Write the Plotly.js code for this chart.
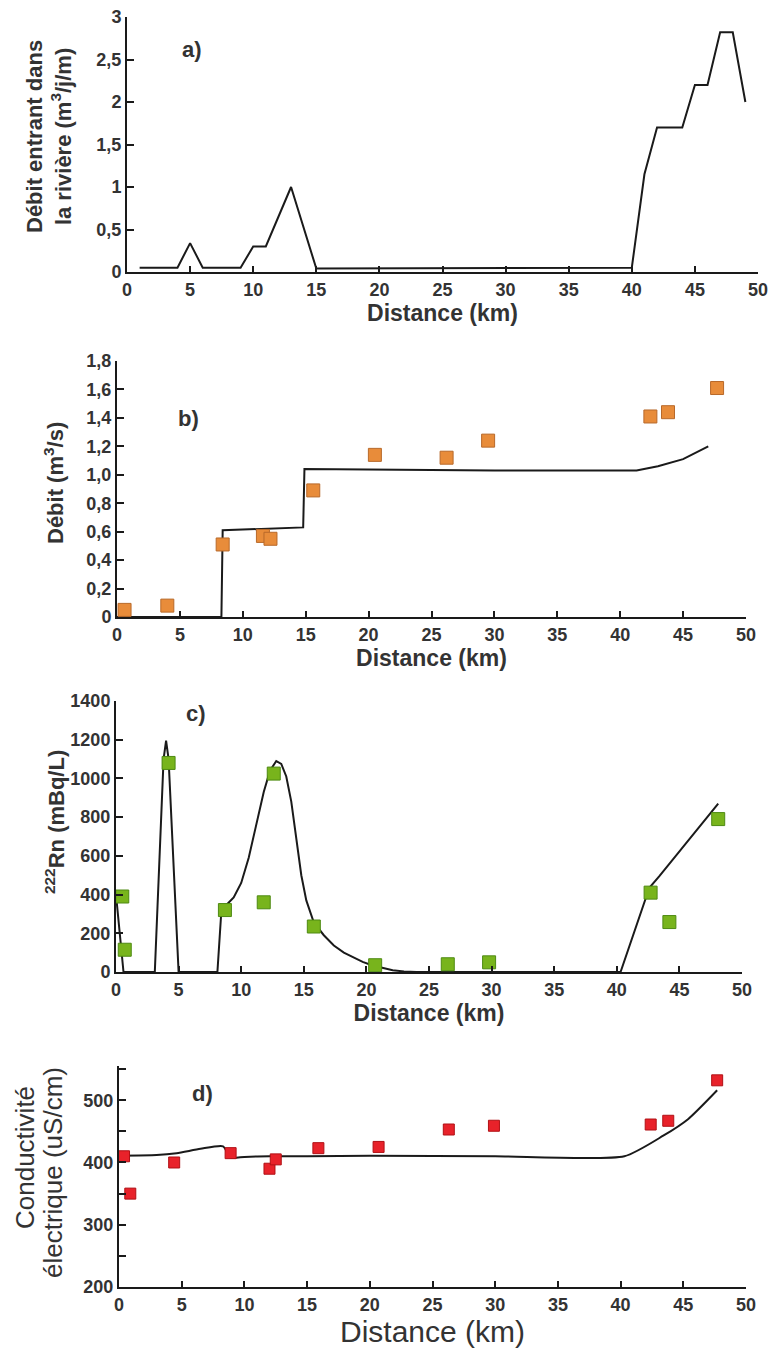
<!DOCTYPE html>
<html>
<head>
<meta charset="utf-8">
<script src="https://cdn.plot.ly/plotly-3.0.1.min.js"></script>
<style>html,body{margin:0;padding:0;background:#fff;}#chart{width:770px;height:1351px;}</style>
</head>
<body>
<div id="chart"></div>
<script>
// ---- Panel a: inflow to the river ----
var aX = [1, 4, 5, 6, 9, 10, 11, 13, 15, 40, 41, 42, 44, 45, 46, 47, 48, 49];
var aY = [0.05, 0.05, 0.34, 0.05, 0.05, 0.3, 0.3, 1.0, 0.04, 0.05, 1.15, 1.7, 1.7, 2.2, 2.2, 2.82, 2.82, 2.0];
var aTickVals = [0, 0.5, 1, 1.5, 2, 2.5, 3];
var aTickText = ['0', '0,5', '1', '1,5', '2', '2,5', '3'];

// ---- Panel b: discharge ----
var bObsX = [0.6, 4.0, 8.4, 11.6, 12.2, 15.6, 20.5, 26.2, 29.5, 42.4, 43.8, 47.7];
var bObsY = [0.05, 0.08, 0.51, 0.57, 0.55, 0.89, 1.14, 1.12, 1.24, 1.41, 1.44, 1.61];
var bModX = [0, 8.3, 8.4, 14.8, 14.9, 20, 30, 41.3, 43, 45, 47];
var bModY = [0, 0, 0.61, 0.63, 1.04, 1.035, 1.03, 1.03, 1.06, 1.11, 1.2];
var bTickVals = [0, 0.2, 0.4, 0.6, 0.8, 1.0, 1.2, 1.4, 1.6, 1.8];
var bTickText = ['0', '0,2', '0,4', '0,6', '0,8', '1,0', '1,2', '1,4', '1,6', '1,8'];

// ---- Panel c: 222Rn ----
var cObsX = [0.5, 0.7, 4.2, 8.7, 11.8, 12.6, 15.8, 20.7, 26.5, 29.8, 42.7, 44.2, 48.1];
var cObsY = [390, 115, 1080, 320, 360, 1025, 235, 35, 40, 50, 410, 258, 790];
var cModX = [0, 0.3, 0.6, 3.1, 3.8, 4.0, 4.2, 5.0, 8.1, 8.4, 8.8, 9.4, 10.0, 10.6, 11.2, 11.8, 12.3, 12.8, 13.2, 13.6, 14.0, 14.4, 14.8, 15.2, 15.8, 16.6, 17.4, 18.2, 18.9, 19.7, 20.5, 21.3, 22.1, 23.0, 24.0, 40.3, 42.6, 43.4, 48.1];
var cModY = [400, 180, 0, 0, 1100, 1195, 1100, 0, 0, 300, 345, 385, 460, 590, 760, 930, 1040, 1090, 1075, 1010, 880, 700, 500, 370, 256, 190, 137, 100, 77, 52, 34, 20, 9, 3, 0, 0, 435, 495, 870];
var cTickVals = [0, 200, 400, 600, 800, 1000, 1200, 1400];
var cTickText = ['0', '200', '400', '600', '800', '1000', '1200', '1400'];

// ---- Panel d: electrical conductivity ----
var dObsX = [0.4, 0.9, 4.4, 8.9, 12.0, 12.5, 15.9, 20.7, 26.3, 29.9, 42.4, 43.8, 47.7];
var dObsY = [410, 350, 400, 415, 390, 405, 423, 425, 453, 459, 461, 467, 532];
var dModX = [0, 3, 4.6, 6.5, 8.3, 8.9, 10, 12, 15, 20, 30, 40.3, 43.4, 45.4, 47.7];
var dModY = [411, 412, 415, 422, 426, 408, 409, 410, 410, 411, 410, 410, 443, 470, 516];
var dTickVals = [200, 300, 400, 500];
var dTickText = ['200', '300', '400', '500'];

var xTickVals = [0, 5, 10, 15, 20, 25, 30, 35, 40, 45, 50];
var xTickText = ['0', '5', '10', '15', '20', '25', '30', '35', '40', '45', '50'];

var W = 770, H = 1351;
function px(v) { return v / W; }
function py(v) { return 1 - v / H; }

var FONT = 'Liberation Sans, Arial, sans-serif';
var tickFont = {family: FONT, size: 18, color: '#333333', weight: 'bold'};
var lineStyle = {color: '#1a1a1a', width: 2};

function xAxis(dom, anchor, titleSize, standoff, weight) {
  return {
    domain: dom, anchor: anchor, range: [0, 50], autorange: false,
    tickmode: 'array', tickvals: xTickVals, ticktext: xTickText,
    ticks: 'inside', ticklen: 6, tickwidth: 2, tickcolor: '#1a1a1a',
    showline: true, linecolor: '#1a1a1a', linewidth: 2,
    showgrid: false, zeroline: false, tickfont: tickFont,
    title: {text: 'Distance (km)', standoff: standoff,
            font: {family: FONT, size: titleSize, color: '#333333', weight: weight}}
  };
}
function yAxis(dom, anchor, range, vals, text) {
  return {
    domain: dom, anchor: anchor, range: range, autorange: false,
    tickmode: 'array', tickvals: vals, ticktext: text,
    ticks: 'inside', ticklen: 7, tickwidth: 2, tickcolor: '#1a1a1a',
    showline: true, linecolor: '#1a1a1a', linewidth: 2,
    showgrid: false, zeroline: false, tickfont: tickFont
  };
}

var traces = [
  {x: aX, y: aY, xaxis: 'x', yaxis: 'y', mode: 'lines', line: lineStyle, showlegend: false},
  {x: bModX, y: bModY, xaxis: 'x2', yaxis: 'y2', mode: 'lines', line: lineStyle, showlegend: false},
  {x: bObsX, y: bObsY, xaxis: 'x2', yaxis: 'y2', mode: 'markers', showlegend: false,
   marker: {symbol: 'square', size: 13, color: '#e88c3a', line: {color: '#b8692a', width: 1}}},
  {x: cModX, y: cModY, xaxis: 'x3', yaxis: 'y3', mode: 'lines', line: lineStyle, showlegend: false},
  {x: cObsX, y: cObsY, xaxis: 'x3', yaxis: 'y3', mode: 'markers', showlegend: false,
   marker: {symbol: 'square', size: 13, color: '#78b41c', line: {color: '#4e8a12', width: 1}}},
  {x: dModX, y: dModY, xaxis: 'x4', yaxis: 'y4', mode: 'lines', line: {color: '#1a1a1a', width: 2, shape: 'spline', smoothing: 0.6}, showlegend: false},
  {x: dObsX, y: dObsY, xaxis: 'x4', yaxis: 'y4', mode: 'markers', showlegend: false,
   marker: {symbol: 'square', size: 11, color: '#e8222a', line: {color: '#b01015', width: 1}}}
];

var titleFont = {family: FONT, size: 22, color: '#333333', weight: 'bold'};
var dTitleFont = {family: FONT, size: 26, color: '#333333'};

var layout = {
  width: W, height: H,
  margin: {l: 0, r: 0, t: 0, b: 0},
  paper_bgcolor: '#ffffff', plot_bgcolor: '#ffffff',
  showlegend: false,
  xaxis: xAxis([px(127), px(758)], 'y', 23, 3, 'bold'),
  yaxis: yAxis([py(272), py(17)], 'x', [0, 3], aTickVals, aTickText),
  xaxis2: xAxis([px(117), px(746)], 'y2', 23, 5, 'bold'),
  yaxis2: yAxis([py(617), py(361)], 'x2', [0, 1.8], bTickVals, bTickText),
  xaxis3: xAxis([px(116), px(742)], 'y3', 23, 5, 'bold'),
  yaxis3: yAxis([py(972), py(701)], 'x3', [0, 1400], cTickVals, cTickText),
  xaxis4: xAxis([px(119), px(746)], 'y4', 30, 6, 'normal'),
  yaxis4: Object.assign(yAxis([py(1287), py(1066)], 'x4', [200, 555], dTickVals, dTickText),
                        {minor: {tickvals: [250, 350, 450, 550], ticks: 'inside', ticklen: 7, tickwidth: 2, tickcolor: '#1a1a1a'}}),
  annotations: [
    {xref: 'paper', yref: 'paper', x: px(49), y: py(136), text: 'Débit entrant dans<br>la rivière (m<sup>3</sup>/j/m)',
     textangle: -90, showarrow: false, xanchor: 'center', yanchor: 'middle', font: titleFont},
    {xref: 'paper', yref: 'paper', x: px(54), y: py(483), text: 'Débit (m<sup>3</sup>/s)',
     textangle: -90, showarrow: false, xanchor: 'center', yanchor: 'middle', font: titleFont},
    {xref: 'paper', yref: 'paper', x: px(55), y: py(822), text: '<sup>222</sup>Rn (mBq/L)',
     textangle: -90, showarrow: false, xanchor: 'center', yanchor: 'middle', font: titleFont},
    {xref: 'paper', yref: 'paper', x: px(25), y: py(1158), text: 'Conductivité',
     textangle: -90, showarrow: false, xanchor: 'center', yanchor: 'middle', font: dTitleFont},
    {xref: 'paper', yref: 'paper', x: px(53), y: py(1172), text: 'électrique (uS/cm)',
     textangle: -90, showarrow: false, xanchor: 'center', yanchor: 'middle', font: dTitleFont},
    {xref: 'paper', yref: 'paper', x: px(192), y: py(50), text: 'a)', showarrow: false,
     xanchor: 'center', yanchor: 'middle', font: titleFont},
    {xref: 'paper', yref: 'paper', x: px(188), y: py(418), text: 'b)', showarrow: false,
     xanchor: 'center', yanchor: 'middle', font: titleFont},
    {xref: 'paper', yref: 'paper', x: px(196), y: py(713), text: 'c)', showarrow: false,
     xanchor: 'center', yanchor: 'middle', font: titleFont},
    {xref: 'paper', yref: 'paper', x: px(203), y: py(1093), text: 'd)', showarrow: false,
     xanchor: 'center', yanchor: 'middle', font: titleFont}
  ]
};

Plotly.newPlot('chart', traces, layout, {staticPlot: true, displayModeBar: false});
</script>
</body>
</html>
